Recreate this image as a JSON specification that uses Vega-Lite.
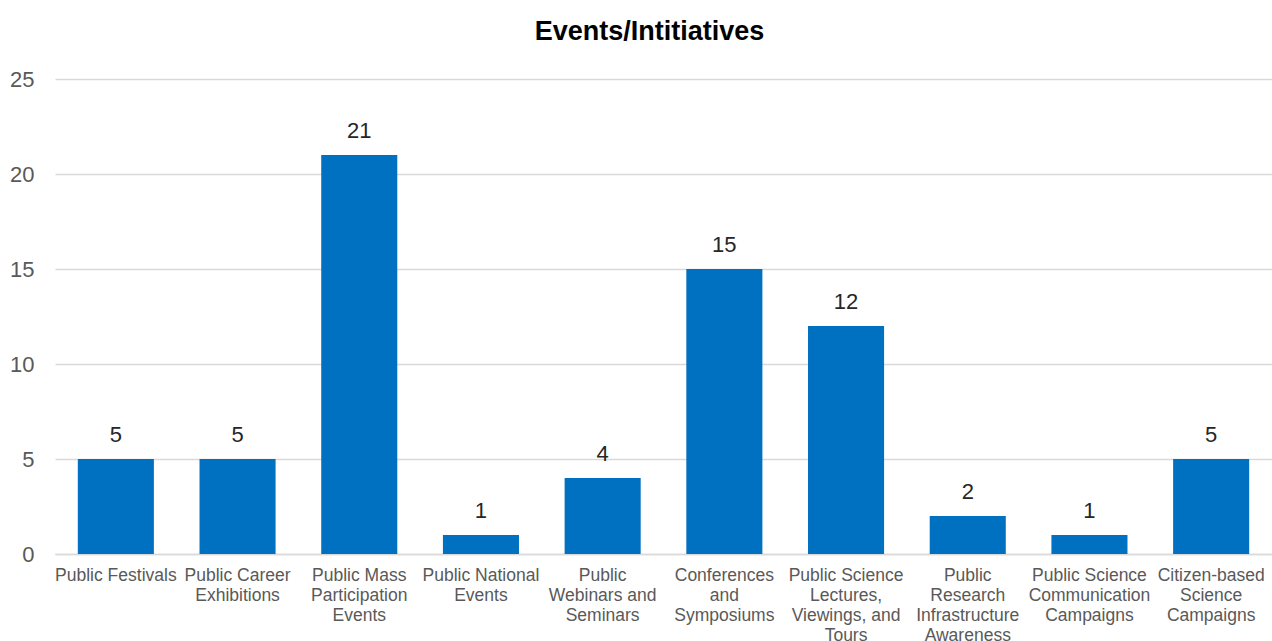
{
  "$schema": "https://vega.github.io/schema/vega-lite/v6.json",
  "autosize": {"type": "none"},
  "padding": {"left": 55, "top": 79, "right": 0, "bottom": 87},
  "width": 1217,
  "height": 475,
  "background": "white",
  "title": {
    "text": "Events/Intitiatives",
    "font": "Liberation Sans",
    "fontSize": 27,
    "fontWeight": "bold",
    "color": "#000000",
    "anchor": "middle",
    "frame": "group",
    "baseline": "alphabetic",
    "offset": 1,
    "dx": -14
  },
  "data": {
    "values": [
      {"category": "Public Festivals", "count": 5},
      {"category": "Public Career|Exhibitions", "count": 5},
      {"category": "Public Mass|Participation|Events", "count": 21},
      {"category": "Public National|Events", "count": 1},
      {"category": "Public|Webinars and|Seminars", "count": 4},
      {"category": "Conferences|and|Symposiums", "count": 15},
      {"category": "Public Science|Lectures,|Viewings, and|Tours", "count": 12},
      {"category": "Public|Research|Infrastructure|Awareness", "count": 2},
      {"category": "Public Science|Communication|Campaigns", "count": 1},
      {"category": "Citizen-based|Science|Campaigns", "count": 5}
    ]
  },
  "encoding": {
    "x": {
      "field": "category",
      "type": "nominal",
      "sort": null,
      "scale": {"paddingInner": 0.375, "paddingOuter": 0.1875},
      "axis": {
        "title": null,
        "labelAngle": 0,
        "labelExpr": "split(datum.value, '|')",
        "labelFont": "Liberation Sans",
        "labelFontSize": 17.5,
        "labelColor": "#595959",
        "labelLineHeight": 20,
        "labelPadding": 12,
        "labelLimit": 0,
        "ticks": false,
        "domainColor": "#d9d9d9",
        "domainWidth": 1.5,
        "grid": false
      }
    },
    "y": {
      "field": "count",
      "type": "quantitative",
      "scale": {"domain": [0, 25], "nice": false},
      "axis": {
        "title": null,
        "values": [0, 5, 10, 15, 20, 25],
        "labelFont": "Liberation Sans",
        "labelFontSize": 22,
        "labelColor": "#595959",
        "labelPadding": 21,
        "ticks": false,
        "domain": false,
        "gridColor": "#d9d9d9",
        "gridWidth": 1.5
      }
    }
  },
  "layer": [
    {"mark": {"type": "bar", "color": "#0070C0"}},
    {
      "mark": {
        "type": "text",
        "font": "Liberation Sans",
        "fontSize": 22,
        "color": "#262626",
        "baseline": "alphabetic",
        "dy": -17
      },
      "encoding": {"text": {"field": "count", "type": "quantitative"}}
    }
  ],
  "config": {"view": {"stroke": null}}
}
